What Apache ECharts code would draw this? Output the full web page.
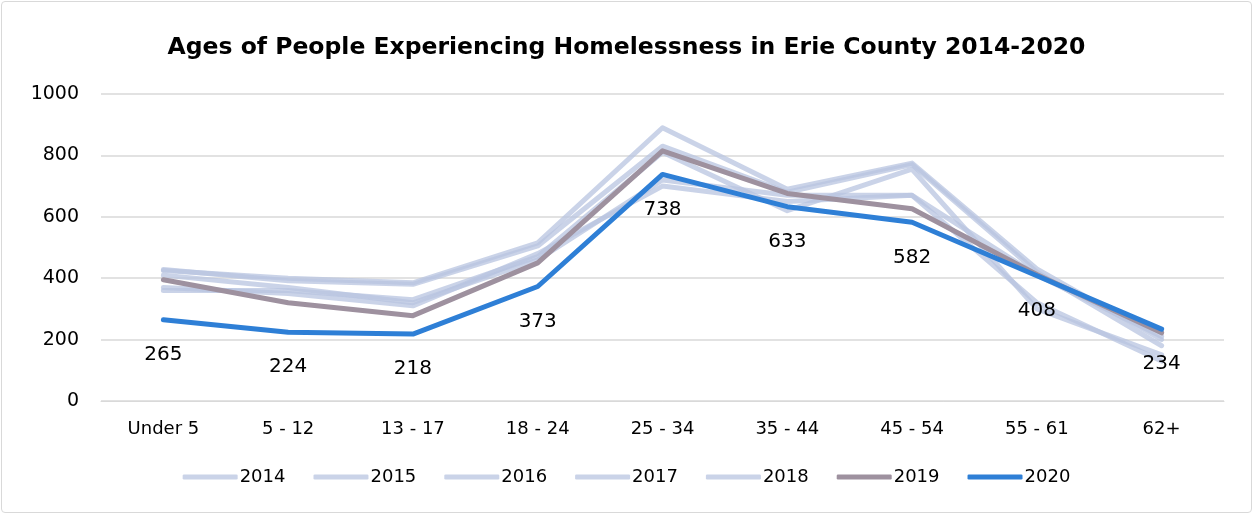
<!DOCTYPE html>
<html><head><meta charset="utf-8">
<script src="https://cdn.jsdelivr.net/npm/echarts@6/dist/echarts.min.js"></script>
<style>html,body{margin:0;padding:0;background:#fff}#c{position:absolute;left:1px;top:1px;width:1249px;height:510px;border:1px solid #d9d9d9;border-radius:4px}</style>
</head><body><div id="c"></div>
<script>
const categories = ['Under 5','5 - 12','13 - 17','18 - 24','25 - 34','35 - 44','45 - 54','55 - 61','62+'];
const y2014 = [425, 400, 385, 515, 890, 690, 775, 430, 200];
const y2015 = [428, 392, 380, 505, 830, 680, 770, 420, 180];
const y2016 = [360, 360, 330, 470, 810, 620, 755, 300, 150];
const y2017 = [370, 350, 310, 480, 700, 650, 670, 320, 130];
const y2018 = [410, 370, 320, 460, 720, 670, 670, 410, 210];
const y2019 = [395, 320, 278, 450, 815, 676, 626, 412, 222];
const y2020 = [265, 224, 218, 373, 738, 633, 582, 408, 234];
const years = ['2014','2015','2016','2017','2018','2019','2020'];
const seriesData = [y2014, y2015, y2016, y2017, y2018, y2019, y2020];
const yTicks = {min: 0, max: 1000, interval: 200};

const light = 'rgba(184,196,224,0.75)';
const colors = [light, light, light, light, light, '#9e919f', '#2e7fd6'];
const font = "'DejaVu Sans', sans-serif";

const chart = echarts.init(document.getElementById('c'));
chart.setOption({
  animation: false,
  title: {text: 'Ages of People Experiencing Homelessness in Erie County 2014-2020', left: 'center', top: 29,
    textStyle: {fontFamily: font, fontSize: 23.5, fontWeight: 'bold', color: '#000'}},
  grid: {left: 99, right: 27, top: 92, bottom: 111},
  legend: {bottom: 21, left: 'center', icon: 'roundRect', itemWidth: 55, itemHeight: 5, itemGap: 28,
    textStyle: {fontFamily: font, fontSize: 18, color: '#000', padding: [0,0,0,-3]}, data: years},
  xAxis: {type: 'category', data: categories, boundaryGap: true,
    axisLine: {lineStyle: {color: '#d9d9d9'}}, axisTick: {show: false},
    axisLabel: {fontFamily: font, fontSize: 18, color: '#000', margin: 19}},
  yAxis: {type: 'value', min: yTicks.min, max: yTicks.max, interval: yTicks.interval,
    axisLine: {show: false}, axisTick: {show: false},
    splitLine: {lineStyle: {color: '#d9d9d9', width: 1.5}},
    axisLabel: {fontFamily: font, fontSize: 19, color: '#000', margin: 22, formatter: v => String(v)}},
  series: years.map((y, i) => ({
    name: y, type: 'line', data: seriesData[i],
    showSymbol: i === 6, symbol: i === 6 ? 'circle' : 'none', symbolSize: 0.1,
    color: colors[i], z: i === 6 ? 5 : (i === 5 ? 4 : 2),
    lineStyle: {width: 5, color: colors[i], cap: 'round', join: 'round'},
    label: i === 6 ? {show: true, position: 'bottom', distance: 25, fontFamily: font, fontSize: 20, color: '#000'} : {show: false}
  }))
});
</script></body></html>
